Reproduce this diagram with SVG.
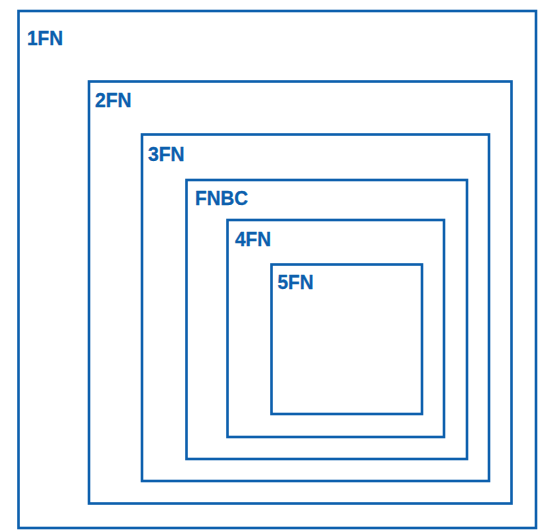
<svg xmlns="http://www.w3.org/2000/svg" width="546" height="532" viewBox="0 0 546 532">
<style>
rect.box{fill:none;stroke:#0c5fad;stroke-width:2.6}
text{font-family:"Liberation Sans",Arial,sans-serif;font-weight:bold;font-size:21px;fill:#0c5fad;stroke:#0c5fad;stroke-width:0.3}
</style>
<rect width="546" height="532" fill="#ffffff"/>
<g id="n1FN"><rect class="box" x="18.5" y="11" width="517.5" height="517"/><text x="27" y="45" textLength="36" lengthAdjust="spacingAndGlyphs">1FN</text></g>
<g id="n2FN"><rect class="box" x="89" y="81.5" width="422.5" height="422"/><text x="95" y="107" textLength="36.5" lengthAdjust="spacingAndGlyphs">2FN</text></g>
<g id="n3FN"><rect class="box" x="142" y="134.5" width="347" height="346.5"/><text x="148" y="160.5" textLength="36.5" lengthAdjust="spacingAndGlyphs">3FN</text></g>
<g id="nFNBC"><rect class="box" x="186.5" y="180" width="280.5" height="279"/><text x="195" y="205" textLength="53" lengthAdjust="spacingAndGlyphs">FNBC</text></g>
<g id="n4FN"><rect class="box" x="227.5" y="220" width="216.5" height="217"/><text x="235" y="246" textLength="36" lengthAdjust="spacingAndGlyphs">4FN</text></g>
<g id="n5FN"><rect class="box" x="271.5" y="264.5" width="150.5" height="149.5"/><text x="277.5" y="288.5" textLength="36" lengthAdjust="spacingAndGlyphs">5FN</text></g>
<g id="connectors"></g>
</svg>
